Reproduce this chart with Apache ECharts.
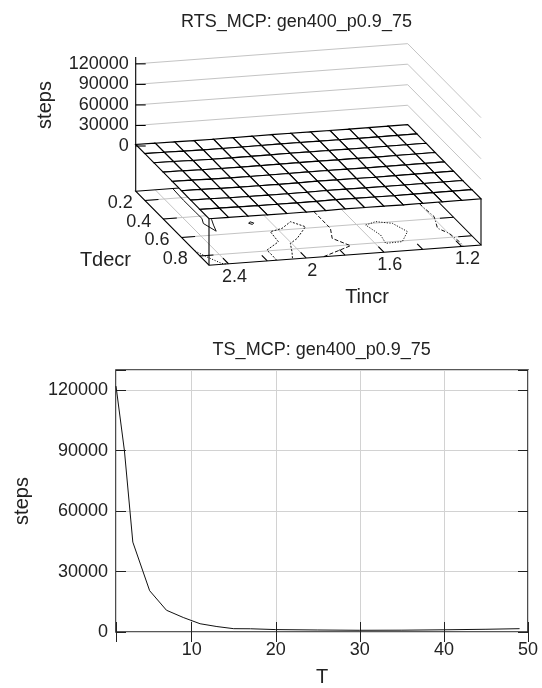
<!DOCTYPE html>
<html>
<head>
<meta charset="utf-8">
<style>
html, body { margin: 0; padding: 0; background: #fff; }
#chart { width: 542px; height: 688px; }
</style>
<script src="https://cdn.jsdelivr.net/npm/echarts@6/dist/echarts.min.js"></script>
</head>
<body>
<div id="chart"></div>
<script>
// ---- top plot: RTS_MCP surface, steps over (Tincr, Tdecr)
var tincrValues = [1.1, 1.2, 1.3, 1.4, 1.5, 1.6, 1.7, 1.8, 1.9, 2.0, 2.1, 2.2, 2.3, 2.4, 2.5];
var tdecrValues = [0.1, 0.2, 0.3, 0.4, 0.5, 0.6, 0.7, 0.8, 0.9];
// rows = Tdecr, columns = Tincr
var surfaceSteps = [
    [1800, 1700, 1600, 1500, 1600, 1700, 1800, 1900, 1700, 1600, 1500, 1600, 1900, 2100, 2300],
    [1700, 1600, 1500, 1400, 1500, 1600, 1700, 1800, 1600, 1500, 1400, 1500, 1800, 2200, 2400],
    [1600, 1500, 1400, 1300, 1400, 1500, 1600, 1700, 1500, 1400, 1300, 1400, 1700, 2300, 2500],
    [1500, 1400, 1300, 1200, 1300, 1400, 1500, 1600, 1400, 1300, 1200, 1300, 1600, 2200, 2400],
    [1400, 1300, 1200, 1100, 1000, 1300, 1400, 1500, 1200, 1100, 1100, 1200, 1500, 2100, 2300],
    [1300, 1200, 1100, 1000, 900, 1100, 1300, 1400, 1000, 900, 1000, 1100, 1400, 2000, 2200],
    [1200, 1100, 1000, 900, 800, 1000, 1200, 1300, 900, 800, 900, 1000, 1300, 1900, 2100],
    [1300, 1200, 1100, 1000, 900, 1100, 1300, 1400, 1000, 900, 1000, 1100, 1400, 1800, 2000],
    [1400, 1300, 1200, 1100, 1000, 1200, 1400, 1500, 1100, 1000, 1100, 1200, 1500, 1700, 1900]
];
var zTicks = [0, 30000, 60000, 90000, 120000];
var zTop = 130000;
var zBase = -66000;
var tincrLabels = [2.4, 2, 1.6, 1.2];
var tincrTickMarks = [2.4, 2.2, 2.0, 1.8, 1.6, 1.4, 1.2];
var tdecrLabels = [0.2, 0.4, 0.6, 0.8];
// contour lines on the base, points as [Tincr, Tdecr]
var contours = [
    [[2.31, 0.1], [2.314, 0.226], [2.313, 0.352], [2.312, 0.424], [2.329, 0.476], [2.304, 0.563], [2.288, 0.5], [2.27, 0.44], [2.25, 0.3], [2.26, 0.1]],
    [[2.111, 0.508], [2.098, 0.494], [2.085, 0.508], [2.098, 0.522], [2.111, 0.508]],
    [[2.152, 0.9], [2.15, 0.846], [2.151, 0.792], [2.056, 0.716], [2.047, 0.609], [1.975, 0.584], [1.903, 0.523], [1.855, 0.585], [1.95, 0.696], [2.007, 0.742], [2.038, 0.826], [2.07, 0.9]],
    [[1.74, 0.3], [1.743, 0.476], [1.743, 0.62], [1.782, 0.722], [1.729, 0.81], [1.91, 0.9]],
    [[1.558, 0.613], [1.494, 0.586], [1.422, 0.616], [1.389, 0.71], [1.461, 0.807], [1.549, 0.812], [1.534, 0.725], [1.558, 0.613]],
    [[1.2, 0.3], [1.198, 0.47], [1.19, 0.579], [1.229, 0.699], [1.197, 0.759], [1.188, 0.85], [1.19, 0.9]],
    [[2.5, 0.747], [2.471, 0.814], [2.431, 0.892], [2.41, 0.9]]
];

// ---- bottom plot: TS_MCP, steps over T
var tValues = [1, 2, 3, 5, 7, 9, 11, 13, 15, 17, 20, 25, 30, 35, 40, 45, 49];
var tsSteps = [122000, 90000, 44600, 20500, 10800, 7200, 4100, 2700, 1650, 1600, 1200, 1000, 850, 900, 1100, 1350, 1650];

var FONT = 'Liberation Sans, Arial, Helvetica, sans-serif';
var INK = '#222';

// oblique view of the 3d box (screen px of the corner Tincr=max, Tdecr=min, steps=0)
var view = { origin: [135.7, 146], ex: [272, -20.2], ey: [73.3, 74], ez: 89 };
var tiHi = tincrValues[tincrValues.length - 1], tiLo = tincrValues[0];
var tdLo = tdecrValues[0], tdHi = tdecrValues[tdecrValues.length - 1];

function proj(ti, td, z) {
    var a = (tiHi - ti) / (tiHi - tiLo);
    var b = (td - tdLo) / (tdHi - tdLo);
    var c = z / zTop;
    return [view.origin[0] + a * view.ex[0] + b * view.ey[0],
            view.origin[1] + a * view.ex[1] + b * view.ey[1] - c * view.ez];
}

function indexData(n) {
    var d = [];
    for (var i = 0; i < n; i++) d.push([i, i]);
    return d;
}

function line(p, q, style) {
    return { type: 'line', shape: { x1: p[0], y1: p[1], x2: q[0], y2: q[1] }, style: style };
}

var greyLine = { stroke: '#c4c4c4', lineWidth: 1 };
var blackLine = { stroke: '#000', lineWidth: 1.1 };

// grey wall lines at z tick levels
var wallLevels = zTicks.filter(function (z) { return z > 0; });

// base grid lines
var baseGrid = [];
tdecrLabels.forEach(function (v) { baseGrid.push([[tiHi, v], [tiLo, v]]); });
tincrLabels.forEach(function (v) { baseGrid.push([[v, tdLo], [v, tdHi]]); });

// mesh quads, far to near
var quads = [];
for (var r = 0; r < tdecrValues.length - 1; r++) {
    for (var c = 0; c < tincrValues.length - 1; c++) quads.push([r, c]);
}
quads.sort(function (p, q) { return (p[0] + p[1]) - (q[0] + q[1]); });

var contourDash = [null, null, [2, 1.5], [4, 2], [1.2, 1.5], [4, 2, 1, 2], [1.2, 1.5]];

var hidden = { xAxisIndex: 2, yAxisIndex: 2, coordinateSystem: 'cartesian2d', silent: true, animation: false };

function custom(zLevel, n, render) {
    return Object.assign({ type: 'custom', z: zLevel, data: indexData(n), renderItem: render }, hidden);
}

var series = [
    custom(1, wallLevels.length, function (params, api) {
        var z = wallLevels[params.dataIndex];
        var pts = [proj(tiHi, tdLo, z), proj(tiLo, tdLo, z), proj(tiLo, tdHi, z)].map(function (p) { return api.coord(p); });
        return { type: 'polyline', shape: { points: pts }, style: { stroke: '#c4c4c4', lineWidth: 1, fill: null } };
    }),
    custom(2, baseGrid.length, function (params, api) {
        var g = baseGrid[params.dataIndex];
        return line(api.coord(proj(g[0][0], g[0][1], zBase)), api.coord(proj(g[1][0], g[1][1], zBase)), greyLine);
    }),
    custom(3, contours.length, function (params, api) {
        var pts = contours[params.dataIndex].map(function (p) { return api.coord(proj(p[0], p[1], zBase)); });
        return { type: 'polyline', shape: { points: pts },
            style: { stroke: '#111', lineWidth: 1, fill: null, lineDash: contourDash[params.dataIndex] } };
    }),
    // base outline and its ticks
    custom(3, 1, function (params, api) {
        var children = [];
        var outline = [proj(tiHi, tdLo, zBase), proj(tiLo, tdLo, zBase), proj(tiLo, tdHi, zBase), proj(tiHi, tdHi, zBase)]
            .map(function (p) { return api.coord(p); });
        children.push({ type: 'polygon', shape: { points: outline }, style: { stroke: '#000', lineWidth: 1.1, fill: null } });
        var dti = 0.05 * (tiHi - tiLo), dtd = 0.075 * (tdHi - tdLo);
        tdecrLabels.forEach(function (v) {
            children.push(line(api.coord(proj(tiHi, v, zBase)), api.coord(proj(tiHi - dti, v, zBase)), blackLine));
            children.push(line(api.coord(proj(tiLo, v, zBase)), api.coord(proj(tiLo + dti, v, zBase)), blackLine));
        });
        tincrTickMarks.forEach(function (v) {
            children.push(line(api.coord(proj(v, tdHi, zBase)), api.coord(proj(v, tdHi - dtd, zBase)), blackLine));
        });
        return { type: 'group', children: children };
    }),
    // surface mesh, white-filled so it hides what lies below
    custom(5, quads.length, function (params, api) {
        var q = quads[params.dataIndex], r = q[0], c = q[1];
        var pts = [
            proj(tincrValues[c], tdecrValues[r], surfaceSteps[r][c]),
            proj(tincrValues[c + 1], tdecrValues[r], surfaceSteps[r][c + 1]),
            proj(tincrValues[c + 1], tdecrValues[r + 1], surfaceSteps[r + 1][c + 1]),
            proj(tincrValues[c], tdecrValues[r + 1], surfaceSteps[r + 1][c])
        ].map(function (p) { return api.coord(p); });
        return { type: 'polygon', shape: { points: pts }, style: { fill: '#fff', stroke: '#000', lineWidth: 1.15 } };
    }),
    // z axis, verticals, ticks and tick labels
    custom(6, 1, function (params, api) {
        var children = [];
        var last = tdecrValues.length - 1, lastC = tincrValues.length - 1;
        children.push(line(api.coord(proj(tiHi, tdLo, zBase)), api.coord(proj(tiHi, tdLo, zTop)), blackLine));
        children.push(line(api.coord(proj(tiHi, tdHi, zBase)), api.coord(proj(tiHi, tdHi, surfaceSteps[last][lastC])), blackLine));
        children.push(line(api.coord(proj(tiLo, tdHi, zBase)), api.coord(proj(tiLo, tdHi, surfaceSteps[last][0])), blackLine));
        zTicks.forEach(function (z) {
            var p = api.coord(proj(tiHi, tdLo, z));
            children.push(line(p, [p[0] + 10, p[1]], blackLine));
            children.push({ type: 'text', x: p[0] - 7, y: p[1],
                style: { text: String(z), fill: INK, font: '18px ' + FONT, align: 'right', verticalAlign: 'middle' } });
        });
        tdecrLabels.forEach(function (v) {
            var p = api.coord(proj(tiHi, v, zBase));
            children.push({ type: 'text', x: p[0] - 12, y: p[1] + 3,
                style: { text: String(v), fill: INK, font: '18px ' + FONT, align: 'right', verticalAlign: 'middle' } });
        });
        tincrLabels.forEach(function (v) {
            var p = api.coord(proj(v, tdHi, zBase));
            children.push({ type: 'text', x: p[0] + 6, y: p[1] + 13,
                style: { text: String(v), fill: INK, font: '18px ' + FONT, align: 'center', verticalAlign: 'middle' } });
        });
        return { type: 'group', children: children };
    }),
    {
        type: 'line',
        xAxisIndex: 0,
        yAxisIndex: 0,
        data: tValues.map(function (t, i) { return [t, tsSteps[i]]; }),
        symbol: 'none',
        lineStyle: { color: '#111', width: 1 },
        clip: true,
        silent: true,
        animation: false,
        z: 4
    }
];

function mirrorAxis(pos, min, max) {
    return {
        gridIndex: 0, type: 'value', position: pos, min: min, max: max,
        axisLine: { show: false },
        axisTick: { show: true, inside: true, length: 10, lineStyle: { color: INK } },
        axisLabel: { show: false },
        splitLine: { show: false }
    };
}

var option = {
    animation: false,
    backgroundColor: '#fff',
    graphic: [
        { type: 'text', x: 296.5, y: 22, style: { text: 'RTS_MCP: gen400_p0.9_75', fill: INK, font: '18px ' + FONT, align: 'center', verticalAlign: 'middle' } },
        { type: 'text', x: 45, y: 105, rotation: Math.PI / 2, style: { text: 'steps', fill: INK, font: '20px ' + FONT, align: 'center', verticalAlign: 'middle' } },
        { type: 'text', x: 131, y: 260, style: { text: 'Tdecr', fill: INK, font: '20px ' + FONT, align: 'right', verticalAlign: 'middle' } },
        { type: 'text', x: 367, y: 297, style: { text: 'Tincr', fill: INK, font: '20px ' + FONT, align: 'center', verticalAlign: 'middle' } },
        { type: 'text', x: 321.7, y: 350, style: { text: 'TS_MCP: gen400_p0.9_75', fill: INK, font: '18px ' + FONT, align: 'center', verticalAlign: 'middle' } }
    ],
    grid: [
        { left: 116, right: 14, top: 370, bottom: 51, show: true, borderColor: '#222', borderWidth: 1.6, backgroundColor: 'transparent' },
        { left: 0, top: 0, width: 542, height: 688, show: false }
    ],
    xAxis: [
        {
            gridIndex: 0, type: 'value', position: 'bottom', min: 1, max: 50,
            axisLine: { show: false },
            axisTick: { show: true, inside: true, length: 10, lineStyle: { color: INK } },
            axisLabel: { fontSize: 18, color: INK, fontFamily: FONT, margin: 9,
                formatter: function (v) { return v % 10 === 0 ? String(v) : ''; } },
            splitLine: { show: true, lineStyle: { color: '#d2d2d2', width: 1 } },
            name: 'T', nameLocation: 'middle', nameGap: 35,
            nameTextStyle: { fontSize: 20, color: INK, fontFamily: FONT }
        },
        mirrorAxis('top', 1, 50),
        { gridIndex: 1, type: 'value', min: 0, max: 542, show: false }
    ],
    yAxis: [
        {
            gridIndex: 0, type: 'value', position: 'left', min: 0, max: zTop, interval: 30000,
            axisLine: { show: false },
            axisTick: { show: true, inside: true, length: 10, lineStyle: { color: INK } },
            axisLabel: { fontSize: 18, color: INK, fontFamily: FONT, margin: 8,
                formatter: function (v) { return v > 120000 ? '' : String(v); } },
            splitLine: { show: true, lineStyle: { color: '#d2d2d2', width: 1 } },
            name: 'steps', nameLocation: 'middle', nameGap: 84, nameRotate: 90,
            nameTextStyle: { fontSize: 20, color: INK, fontFamily: FONT }
        },
        mirrorAxis('right', 0, zTop),
        { gridIndex: 1, type: 'value', min: 0, max: 688, inverse: true, show: false }
    ],
    series: series
};
option.yAxis[1].interval = 30000;

var chart = echarts.init(document.getElementById('chart'));
chart.setOption(option);
</script>
</body>
</html>
